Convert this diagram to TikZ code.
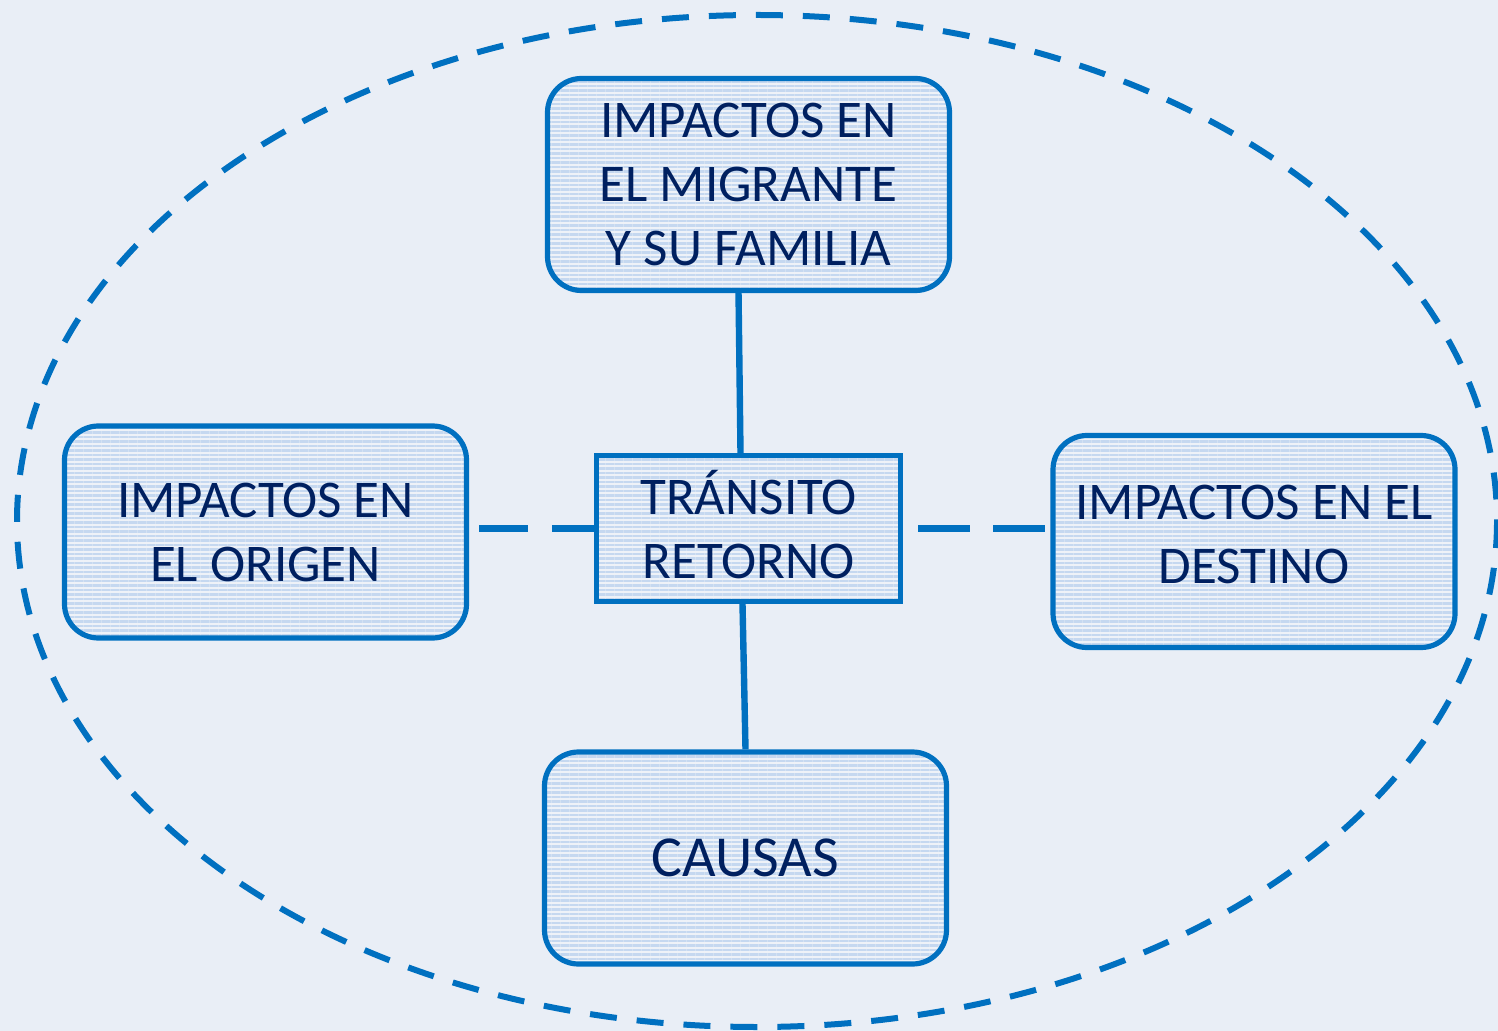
\documentclass[tikz,border=0pt]{standalone}
\usepackage{fontspec}
\setmainfont{Carlito}
\usetikzlibrary{patterns.meta}
\definecolor{bg}{HTML}{E9EEF6}
\definecolor{edge}{HTML}{0070C0}
\definecolor{ink}{HTML}{002060}
\definecolor{stripe}{HTML}{C5D8F0}
\definecolor{boxbg}{HTML}{EEF2F8}
\begin{document}
\begin{tikzpicture}[x=0.5pt,y=-0.5pt,
  box/.style={draw=edge, line width=2.6pt, rounded corners=17pt,
    preaction={fill=boxbg},
    pattern={Lines[angle=0,distance=2.25pt,line width=1.1pt]}, pattern color=stripe,
    text=ink, font=\fontsize{26.5}{32}\selectfont, align=center, inner sep=0pt,
    minimum width=201pt, minimum height=106pt},
  centerbox/.style={box, rounded corners=0pt, minimum width=152pt, minimum height=73pt},
  conn/.style={draw=edge, line width=3.2pt},
  halo/.style={draw=edge, line width=3pt, dash pattern=on 13.5pt off 10pt}]
\fill[bg] (0,0) rectangle (1498,1031);
\useasboundingbox (0,0) rectangle (1498,1031);
\draw[halo] (757,521) ellipse [x radius=740, y radius=506];

\node[box] (top) at (748.5,184.5) {IMPACTOS EN\\EL MIGRANTE\\Y SU FAMILIA};
\node[box] (left) at (265.5,532) {IMPACTOS EN\\EL ORIGEN};
\node[centerbox, text depth=4pt] (ctr) at (748.5,528.5) {TRÁNSITO\\RETORNO};
\node[box, text depth=7pt] (right) at (1254,541.5) {IMPACTOS EN EL\\DESTINO};
\node[box, font=\fontsize{29}{34}\selectfont] (bot) at (745.5,858) {CAUSAS};

\draw[conn] ([xshift=-5pt]top.south) -- ([xshift=-4pt]ctr.north);
\draw[conn] ([xshift=-3pt]ctr.south) -- (bot.north);
\draw[conn, dash pattern=on 21pt off 12pt on 24.5pt off 20pt] (ctr.west) -- (ctr.west -| left.east);
\draw[conn, dash pattern=on 0pt off 7.5pt on 26pt off 11.5pt on 26pt off 20pt] (ctr.east) -- (ctr.east -| right.west);
\end{tikzpicture}
\end{document}
